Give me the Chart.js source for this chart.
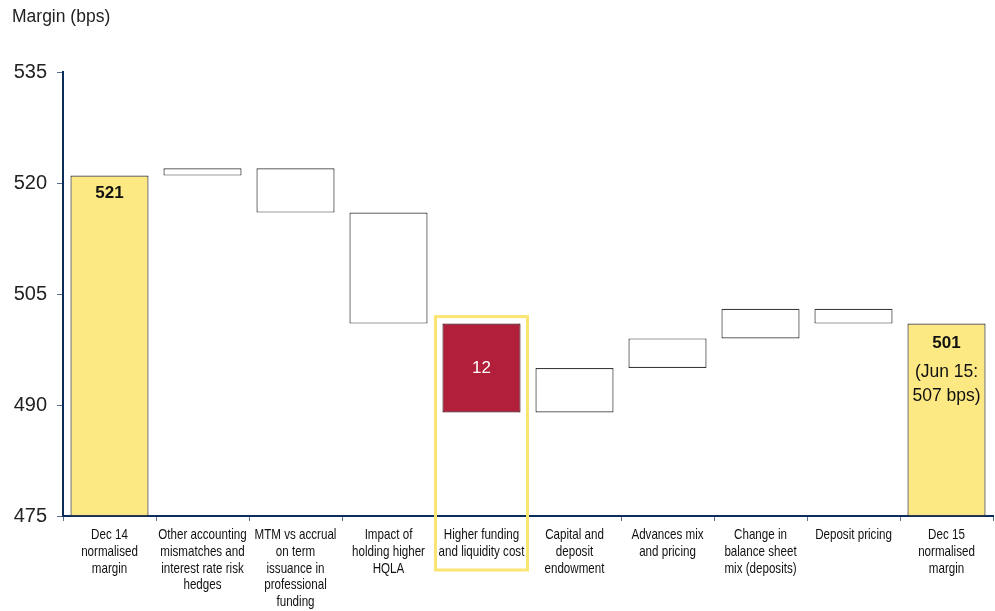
<!DOCTYPE html>
<html>
<head>
<meta charset="utf-8">
<script src="https://cdn.jsdelivr.net/npm/chart.js@4.4.1/dist/chart.umd.min.js"></script>
<style>
  html, body { margin: 0; padding: 0; background: #fff; }
</style>
</head>
<body>
<canvas id="margin-walk" width="995" height="611"></canvas>
<script>
/* margin walk Dec 14 -> Dec 15 (bps) */
var categories = [
  ["Dec 14", "normalised", "margin"],
  ["Other accounting", "mismatches and", "interest rate risk", "hedges"],
  ["MTM vs accrual", "on term", "issuance in", "professional", "funding"],
  ["Impact of", "holding higher", "HQLA"],
  ["Higher funding", "and liquidity cost"],
  ["Capital and", "deposit", "endowment"],
  ["Advances mix", "and pricing"],
  ["Change in", "balance sheet", "mix (deposits)"],
  ["Deposit pricing"],
  ["Dec 15", "normalised", "margin"]
];
var openingMargin = 521;
var movements = [1, -6, -15, -12, 6, 4, 4, -2];
var closingMargin = 501;
var yTicks = [475, 490, 505, 520, 535];
var highlighted = 4;

var axisFloor = yTicks[0];
var labelFont = '"Liberation Sans", Arial, Helvetica, sans-serif';

// floating bars: totals start at the axis floor, movements float on the running level
var ranges = [[axisFloor, openingMargin]];
var level = openingMargin;
movements.forEach(function (m) {
  ranges.push([level, level + m]);
  level += m;
});
ranges.push([axisFloor, closingMargin]);

var fills = ranges.map(function (r, i) {
  if (i === 0 || i === ranges.length - 1) return "#fde984";
  if (i === highlighted) return "#b21f3a";
  return "#ffffff";
});
var borders = ranges.map(function (r, i) {
  if (i === highlighted) return "#4a0f1c";
  return "#3a3a3a";
});

var titleText = {
  id: "titleText",
  afterDraw: function (chart) {
    var ctx = chart.ctx;
    ctx.save();
    ctx.fillStyle = "#222";
    ctx.font = "17.5px " + labelFont;
    ctx.textAlign = "left";
    ctx.textBaseline = "middle";
    ctx.fillText("Margin (bps)", 12, 17);
    ctx.restore();
  }
};

// category names in a condensed face: the sans is squeezed horizontally
var categoryLabels = {
  id: "categoryLabels",
  afterDraw: function (chart) {
    var ctx = chart.ctx;
    var xs = chart.scales.x;
    var top = chart.chartArea.bottom + 14;
    ctx.save();
    ctx.fillStyle = "#111";
    ctx.font = "14.5px " + labelFont;
    ctx.textAlign = "center";
    ctx.textBaseline = "middle";
    categories.forEach(function (lines, i) {
      var x = xs.getPixelForValue(i);
      lines.forEach(function (line, k) {
        ctx.save();
        ctx.translate(x, top + 5 + k * 16.8);
        ctx.scale(0.8, 1);
        ctx.fillText(line, 0, 0);
        ctx.restore();
      });
    });
    ctx.restore();
  }
};

var barLabels = {
  id: "barLabels",
  afterDatasetsDraw: function (chart) {
    var ctx = chart.ctx;
    var bars = chart.getDatasetMeta(0).data;
    var first = bars[0], hl = bars[highlighted], last = bars[bars.length - 1];
    ctx.save();
    ctx.textAlign = "center";
    ctx.textBaseline = "middle";

    ctx.fillStyle = "#111";
    ctx.font = "bold 17px " + labelFont;
    ctx.fillText(String(openingMargin), first.x, first.y + 18);
    ctx.fillText(String(closingMargin), last.x, last.y + 20);
    ctx.font = "17.5px " + labelFont;
    ctx.fillText("(Jun 15:", last.x, last.y + 49);
    ctx.fillText("507 bps)", last.x, last.y + 73);

    ctx.fillStyle = "#ffffff";
    ctx.font = "17px " + labelFont;
    ctx.fillText(String(Math.abs(movements[highlighted - 1])), hl.x, (hl.y + hl.base) / 2);
    ctx.restore();
  }
};

// yellow frame round the funding cost column, running down over its label
var highlightBox = {
  id: "highlightBox",
  afterDraw: function (chart) {
    var ctx = chart.ctx;
    var xs = chart.scales.x;
    var area = chart.chartArea;
    var bar = chart.getDatasetMeta(0).data[highlighted];
    var half = (area.right - area.left) / categories.length / 2;
    var top = Math.min(bar.y, bar.base) - 7;
    ctx.save();
    ctx.strokeStyle = "#fbe572";
    ctx.lineWidth = 3;
    ctx.strokeRect(xs.getPixelForValue(highlighted) - half + 0.5, top,
                   2 * half - 1, area.bottom + 54 - top);
    ctx.restore();
  }
};

new Chart(document.getElementById("margin-walk"), {
  type: "bar",
  data: {
    labels: categories,
    datasets: [{
      data: ranges,
      backgroundColor: fills,
      borderColor: borders,
      borderWidth: 1.2,
      borderSkipped: false,
      barPercentage: 0.84,
      categoryPercentage: 1
    }]
  },
  options: {
    responsive: false,
    animation: false,
    devicePixelRatio: 1,
    layout: { padding: { top: 72, right: 2, left: 0, bottom: 0 } },
    plugins: {
      legend: { display: false },
      tooltip: { enabled: false }
    },
    scales: {
      x: {
        offset: true,
        grid: {
          offset: true,
          drawOnChartArea: false,
          drawTicks: true,
          tickLength: 5,
          color: "#5b6f8c"
        },
        border: { color: "#0b2d5b", width: 2 },
        ticks: { display: false },
        afterFit: function (scale) { scale.height = 95; }
      },
      y: {
        min: yTicks[0],
        max: yTicks[yTicks.length - 1],
        afterBuildTicks: function (scale) {
          scale.ticks = yTicks.map(function (v) { return { value: v }; });
        },
        grid: {
          drawOnChartArea: false,
          drawTicks: true,
          tickLength: 6,
          color: "#5b6f8c"
        },
        border: { color: "#0b2d5b", width: 2 },
        ticks: {
          padding: 10,
          color: "#222",
          font: { family: labelFont, size: 20 }
        },
        afterFit: function (scale) { scale.width = 63; }
      }
    }
  },
  plugins: [titleText, categoryLabels, barLabels, highlightBox]
});
</script>
</body>
</html>
